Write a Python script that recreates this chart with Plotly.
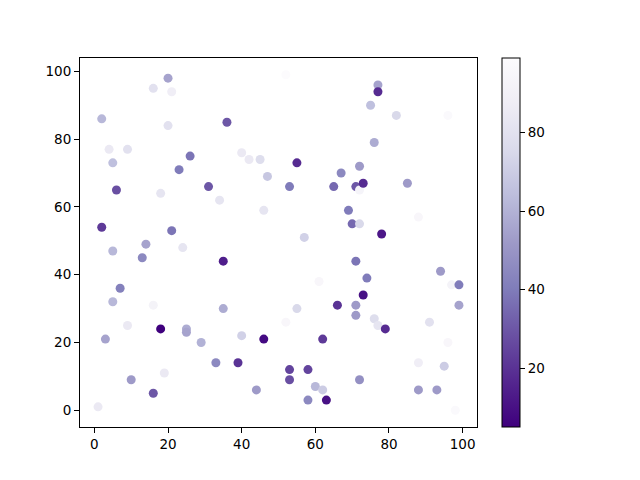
import plotly.graph_objects as go

# scatter points (x, y, colour value)
xs = [20, 16, 21, 2, 36, 20, 4, 9, 5, 26, 23, 40, 42, 45, 47, 6, 31, 18, 34, 46,
      2, 21, 14, 24, 5, 52, 77, 77, 75, 82, 96, 76, 55, 72, 67, 53, 65, 71, 72, 73,
      85, 69, 70, 72, 88, 78, 57, 13, 35, 7, 5, 16, 35, 9, 18, 25, 25, 3, 29, 40,
      46, 33, 39, 10, 19, 16, 44, 1, 71, 74, 73, 66, 71, 71, 76, 77, 79, 61, 55, 52,
      62, 53, 58, 53, 60, 62, 58, 63, 72, 94, 97, 99, 99, 91, 96, 88, 95, 88, 93, 98]
ys = [98, 95, 94, 86, 85, 84, 77, 77, 73, 75, 71, 76, 74, 74, 69, 65, 66, 64, 62, 59,
      54, 53, 49, 48, 47, 99, 96, 94, 90, 87, 87, 79, 73, 72, 70, 66, 66, 66, 65, 67,
      67, 59, 55, 55, 57, 52, 51, 45, 44, 36, 32, 31, 30, 25, 24, 24, 23, 21, 20, 22,
      21, 14, 14, 9, 11, 5, 6, 1, 44, 39, 34, 31, 31, 28, 27, 25, 24, 38, 30, 26,
      21, 12, 12, 9, 7, 6, 3, 3, 9, 41, 37, 37, 31, 26, 20, 14, 13, 6, 6, 0]
vals = [55, 80, 88, 62, 30, 80, 85, 80, 65, 38, 40, 85, 85, 78, 68, 28, 30, 82, 82, 82,
        22, 38, 55, 82, 62, 99, 55, 18, 65, 75, 97, 58, 18, 52, 45, 40, 35, 30, 93, 18,
        52, 40, 35, 75, 95, 12, 72, 45, 14, 42, 62, 92, 58, 85, 5, 58, 55, 55, 60, 72,
        8, 45, 20, 52, 85, 30, 52, 85, 38, 40, 10, 20, 52, 52, 78, 82, 18, 95, 75, 95,
        22, 25, 25, 28, 62, 70, 45, 10, 48, 52, 92, 40, 55, 80, 95, 88, 70, 52, 52, 97]
cbar_ticks = [20, 40, 60, 80]

FONT = dict(family="DejaVu Sans, Noto Sans, sans-serif", size=13.5, color="black")

fig = go.Figure(go.Scatter(
    x=xs, y=ys, mode="markers",
    marker=dict(size=9, color=vals, colorscale="Purples_r",
                line=dict(width=0),
                colorbar=dict(x=1.063, xanchor="left", y=0.5, yanchor="middle",
                              xpad=0, ypad=0,
                              len=1, lenmode="fraction", thickness=18,
                              outlinewidth=1, outlinecolor="black",
                              tickvals=cbar_ticks, ticks="outside",
                              ticklen=5, tickcolor="black",
                              tickfont=FONT)),
    showlegend=False))

axis = dict(showline=True, mirror=True, linecolor="black", linewidth=1,
            ticks="outside", ticklen=5, tickcolor="black", showgrid=False,
            zeroline=False, tickfont=FONT, dtick=20)
# page body adds an 8px offset, so margins are trimmed on the top/left
fig.update_layout(
    width=640, height=480,
    margin=dict(l=72, r=171, t=50, b=61),
    paper_bgcolor="white", plot_bgcolor="white",
    xaxis=dict(axis, range=[-3.9, 103.9]),
    yaxis=dict(axis, range=[-4.95, 103.95]),
    font=FONT,
)

fig.write_html("out.html")
